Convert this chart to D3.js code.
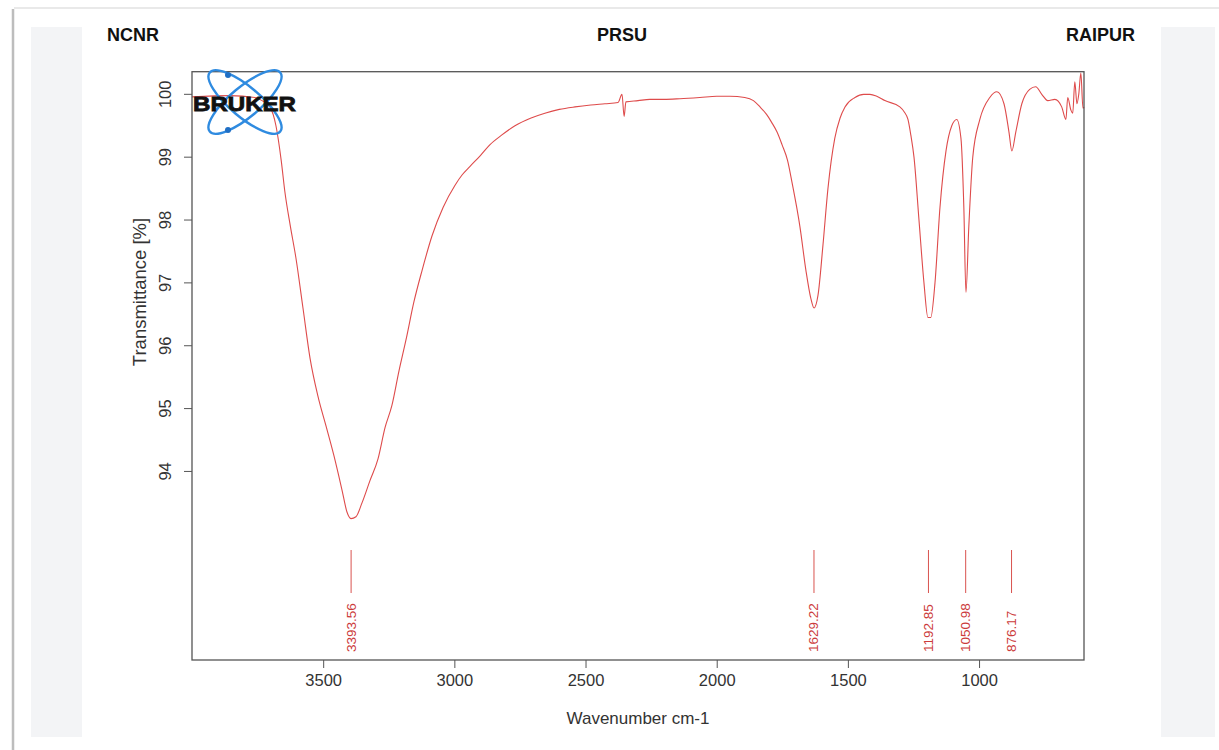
<!DOCTYPE html>
<html>
<head>
<meta charset="utf-8">
<script src="https://cdn.jsdelivr.net/npm/d3@7"></script>
<style>
  html, body { margin: 0; padding: 0; background: #fff; }
  svg { display: block; font-family: 'Liberation Sans', Arial, sans-serif; }
</style>
</head>
<body>
<div id="chart-container"></div>
<script>
// spectrum: wavenumber (cm-1) and transmittance (%)
const wavenumbers = [
  4000, 3855, 3760, 3733, 3703, 3680, 3660, 3646, 3625, 3604, 3577, 3550, 3520, 3489, 3459,
  3428, 3409, 3394, 3375, 3352, 3322, 3291, 3264, 3238, 3211, 3184, 3154, 3123, 3085,
  3043, 2998, 2970, 2941, 2900, 2864, 2820, 2769, 2710, 2655, 2600, 2540, 2480, 2426,
  2376, 2361, 2353, 2346, 2300, 2255, 2200, 2140, 2064, 2000, 1950, 1893, 1860, 1835,
  1810, 1790, 1770, 1751, 1730, 1713, 1695, 1683, 1660, 1641, 1629, 1614, 1595, 1576,
  1550, 1530, 1511, 1473, 1440, 1416, 1390, 1359, 1302, 1285, 1271, 1260, 1248, 1229,
  1210, 1195, 1184, 1168, 1149, 1126, 1104, 1085, 1069, 1058, 1050, 1039, 1024, 997,
  959, 932, 905, 886, 875, 860, 837, 807, 784, 761, 738, 711, 685, 669, 662, 650, 643,
  635, 627, 620, 612, 604, 600
]
const transmittance = [
  99.96, 99.98, 99.95, 99.9, 99.8, 99.5, 98.95, 98.45, 97.9, 97.4, 96.6, 95.8, 95.2, 94.72, 94.25,
  93.7, 93.35, 93.25, 93.28, 93.5, 93.85, 94.2, 94.7, 95.05, 95.6, 96.1, 96.7, 97.2, 97.75,
  98.2, 98.55, 98.72, 98.85, 99.03, 99.2, 99.35, 99.5, 99.62, 99.7, 99.76, 99.8, 99.83, 99.85,
  99.87, 100.0, 99.65, 99.88, 99.9, 99.92, 99.92, 99.93, 99.95, 99.97, 99.97, 99.95, 99.9, 99.8,
  99.68, 99.55, 99.4, 99.2, 98.95, 98.6, 98.2, 97.9, 97.2, 96.75, 96.6, 96.8, 97.6, 98.5,
  99.3, 99.62, 99.8, 99.95, 100.0, 100.0, 99.97, 99.9, 99.8, 99.72, 99.6, 99.35, 99.0, 98.0,
  97.0, 96.45, 96.45, 97.0, 98.2, 99.1, 99.5, 99.6, 99.3, 98.2, 96.85, 97.9, 99.0, 99.6,
  99.95, 100.04, 99.85, 99.4, 99.1, 99.4, 99.85, 100.08, 100.12, 100.0, 99.9, 99.92, 99.8, 99.6, 99.95, 99.75, 99.7,
  100.2, 99.85, 100.0, 100.34, 99.78, 99.8
]

const peakPositions = [3393.56, 1629.22, 1192.85, 1050.98, 876.17]
const peakLabels = ['3393.56', '1629.22', '1192.85', '1050.98', '876.17']

const xTicks = [3500, 3000, 2500, 2000, 1500, 1000]
const yTicks = [94, 95, 96, 97, 98, 99, 100]

const headerLabels = ['NCNR', 'PRSU', 'RAIPUR']

const pageWidth = 1219
const pageHeight = 750
const plot = { left: 192, right: 1084, top: 71.7, bottom: 660 }

const svg = d3
  .select('#chart-container')
  .append('svg')
  .attr('width', pageWidth)
  .attr('height', pageHeight)

const xScale = d3.scaleLinear().domain([4000, 600]).range([plot.left, plot.right])
const yScale = d3.scaleLinear().domain([91.0, 100.36]).range([plot.bottom, plot.top])

const drawPage = () => {
  // frame of the scanned report
  svg.append('line').attr('x1', 14).attr('x2', pageWidth).attr('y1', 8).attr('y2', 8)
    .attr('stroke', '#e2e2e2').attr('stroke-width', 1.5)
  svg.append('line').attr('x1', 13).attr('x2', 13).attr('y1', 9).attr('y2', pageHeight)
    .attr('stroke', '#bdbdbd').attr('stroke-width', 2.5)
  svg.append('rect').attr('x', 31).attr('y', 27).attr('width', 51).attr('height', 710)
    .attr('fill', '#f3f4f6')
  svg.append('rect').attr('x', 1161).attr('y', 27).attr('width', 54).attr('height', 710)
    .attr('fill', '#f3f4f6')

  const header = svg.append('g').attr('font-weight', 'bold').attr('font-size', 18)
    .attr('fill', '#111')
  header.append('text').attr('x', 107).attr('y', 41).text(headerLabels[0])
  header.append('text').attr('x', 622).attr('y', 41).attr('text-anchor', 'middle').text(headerLabels[1])
  header.append('text').attr('x', 1135).attr('y', 41).attr('text-anchor', 'end').text(headerLabels[2])
}

const drawAxes = () => {
  const xAxis = d3.axisBottom(xScale).tickValues(xTicks).tickFormat(d3.format('d'))
    .tickSize(8).tickPadding(6)
  const yAxis = d3.axisLeft(yScale).tickValues(yTicks).tickFormat(d3.format('d'))
    .tickSize(8).tickPadding(4)

  const gx = svg.append('g').attr('id', 'x-axis')
    .attr('transform', `translate(0,${plot.bottom})`).call(xAxis)
  gx.select('.domain').remove()
  gx.selectAll('line').attr('stroke', '#555')
  gx.selectAll('text').attr('font-size', 16.5).attr('fill', '#333')
    .attr('font-family', 'Liberation Sans, Arial, sans-serif')

  const gy = svg.append('g').attr('id', 'y-axis')
    .attr('transform', `translate(${plot.left},0)`).call(yAxis)
  gy.select('.domain').remove()
  gy.selectAll('line').attr('stroke', '#555')
  gy.selectAll('text').attr('font-size', 16.5).attr('fill', '#333')
    .attr('font-family', 'Liberation Sans, Arial, sans-serif')
    .attr('text-anchor', 'middle')
    .attr('x', null).attr('dy', null)
    .attr('transform', d => `translate(-21,${yScale(d)}) rotate(-90)`)
    .attr('y', 0)
  gy.selectAll('.tick').attr('transform', null)
  gy.selectAll('.tick line').attr('y1', d => yScale(d)).attr('y2', d => yScale(d))

  svg.append('rect')
    .attr('x', plot.left).attr('y', plot.top)
    .attr('width', plot.right - plot.left).attr('height', plot.bottom - plot.top)
    .attr('fill', 'none').attr('stroke', '#555').attr('stroke-width', 1.3)

  svg.append('text').attr('x', 638).attr('y', 724).attr('text-anchor', 'middle')
    .attr('font-size', 17).attr('fill', '#333').text('Wavenumber cm-1')
  svg.append('text').attr('transform', 'translate(146,292) rotate(-90)')
    .attr('text-anchor', 'middle').attr('font-size', 18.5).attr('fill', '#333')
    .text('Transmittance [%]')
}

const drawSpectrum = () => {
  const points = wavenumbers.map((w, i) => [w, transmittance[i]])
  const line = d3.line().x(d => xScale(d[0])).y(d => yScale(d[1])).curve(d3.curveMonotoneX)
  svg.append('path').datum(points)
    .attr('d', line)
    .attr('fill', 'none')
    .attr('stroke', '#de4b4b')
    .attr('stroke-width', 1.1)
    .attr('stroke-linejoin', 'round')
}

const drawPeaks = () => {
  const peaks = svg.append('g').attr('id', 'peaks')
  peaks.selectAll('line').data(peakPositions).enter().append('line')
    .attr('x1', d => xScale(d)).attr('x2', d => xScale(d))
    .attr('y1', 550).attr('y2', 593)
    .attr('stroke', '#d9534f').attr('stroke-width', 1)
  peaks.selectAll('text').data(peakPositions).enter().append('text')
    .attr('transform', d => `translate(${xScale(d) + 4.5},652) rotate(-90)`)
    .attr('font-size', 13.5).attr('fill', '#cc3b3b')
    .text((d, i) => peakLabels[i])
}

const drawLogo = () => {
  const logo = svg.append('g').attr('transform', 'translate(245,102)')
  ;[-40, 40].forEach(angle => {
    logo.append('ellipse').attr('rx', 46).attr('ry', 15)
      .attr('transform', `rotate(${angle})`)
      .attr('fill', 'none').attr('stroke', '#2f8be0').attr('stroke-width', 2.4)
  })
  logo.append('circle').attr('cx', -17).attr('cy', -27).attr('r', 3).attr('fill', '#1f6fc5')
  logo.append('circle').attr('cx', -17).attr('cy', 28).attr('r', 3).attr('fill', '#1f6fc5')
  svg.append('text').attr('x', 193).attr('y', 111)
    .attr('font-size', 20).attr('font-weight', 'bold').attr('fill', '#111')
    .attr('textLength', 103).attr('lengthAdjust', 'spacingAndGlyphs')
    .attr('stroke', '#111').attr('stroke-width', 0.8)
    .text('BRUKER')
}

drawPage()
drawSpectrum()
drawPeaks()
drawAxes()
drawLogo()
</script>
</body>
</html>
